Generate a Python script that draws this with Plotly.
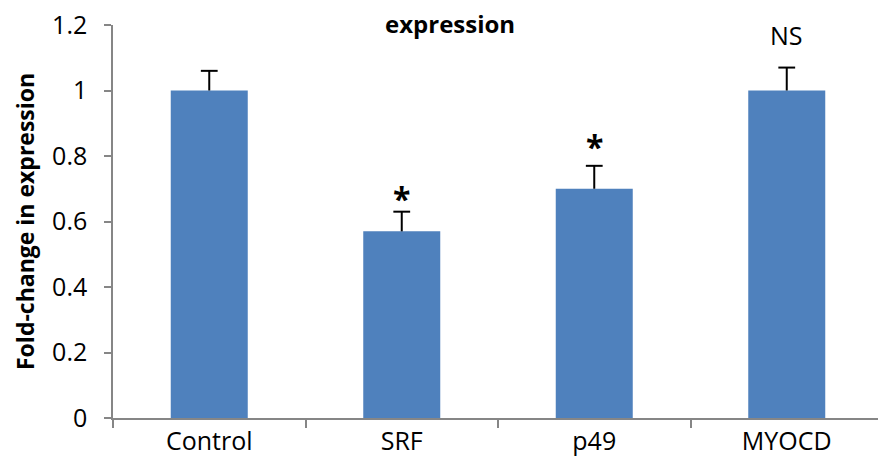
import plotly.graph_objects as go

categories = ["Control", "SRF", "p49", "MYOCD"]
values = [1.0, 0.57, 0.70, 1.0]
errors = [0.06, 0.06, 0.07, 0.07]
sig_labels = ["", "*", "*", "NS"]
sig_y = [None, 0.67, 0.83, 1.17]
y_ticks = [0, 0.2, 0.4, 0.6, 0.8, 1.0, 1.2]
y_tick_text = ["0", "0.2", "0.4", "0.6", "0.8", "1", "1.2"]

FONT = "Open Sans"
OFF = 8  # page body margin
W, H = 886, 471
# desired plot area in page pixels: x 113..883, y 25..418
L, R = 113 - OFF, W + OFF - 883
T, B = 25 - OFF, H + OFF - 418
PW, PH = W - L - R, H - T - B


def px_x(xp):
    return (xp - OFF - L) / PW


def px_y(yp):
    return (H - B - (yp - OFF)) / PH


fig = go.Figure()
fig.add_trace(go.Bar(
    x=categories, y=values,
    marker=dict(color="#4F81BD", line=dict(width=0)),
    showlegend=False, hoverinfo="skip",
))

# plus-only error bars: stem + cap
stem_x, stem_y = [], []
for c, v, e in zip(categories, values, errors):
    stem_x += [c, c, None]
    stem_y += [v, v + e, None]
fig.add_trace(go.Scatter(
    x=stem_x, y=stem_y, mode="lines",
    line=dict(color="black", width=2), showlegend=False, hoverinfo="skip",
))
fig.add_trace(go.Scatter(
    x=categories, y=[v + e for v, e in zip(values, errors)], mode="markers",
    marker=dict(symbol="line-ew", size=12, line=dict(color="black", width=2)),
    showlegend=False, hoverinfo="skip",
))

for c, lab, yy in zip(categories, sig_labels, sig_y):
    if lab:
        is_star = lab == "*"
        fig.add_annotation(
            x=c, y=yy, text=("<b>*</b>" if is_star else lab), showarrow=False,
            font=dict(family=FONT, size=32 if is_star else 25, color="black"),
            xref="x", yref="y", yanchor="middle",
        )

# chart title (second line, at the very top)
fig.add_annotation(
    text="<b>expression</b>", xref="paper", yref="paper",
    x=px_x(450), y=px_y(OFF - 3), xanchor="center", yanchor="top",
    showarrow=False, font=dict(family=FONT, size=24, color="black"),
)
# y-axis title
fig.add_annotation(
    text="<b>Fold-change in expression</b>", xref="paper", yref="paper",
    x=px_x(25), y=px_y(222), xanchor="center", yanchor="middle",
    textangle=-90, showarrow=False,
    font=dict(family=FONT, size=23, color="black"),
)

fig.update_layout(
    width=W, height=H,
    margin=dict(l=L, r=R, t=T, b=B),
    paper_bgcolor="white", plot_bgcolor="white",
    bargap=0.6,
    font=dict(family=FONT, size=25, color="black"),
    xaxis=dict(
        showline=True, linecolor="#868686", linewidth=1.5,
        ticks="outside", tickson="boundaries", ticklen=8,
        tickcolor="#868686", tickwidth=1.5,
        tickfont=dict(family=FONT, size=25, color="black"),
        showgrid=False, zeroline=False, automargin=False,
    ),
    yaxis=dict(
        range=[0, 1.2], tickvals=y_ticks, ticktext=y_tick_text,
        showline=True, linecolor="#868686", linewidth=1.5,
        ticks="outside", ticklen=7, tickcolor="#868686", tickwidth=1.5,
        ticklabelstandoff=12, ticklabeloverflow="allow",
        tickfont=dict(family=FONT, size=25, color="black"),
        showgrid=False, zeroline=False, automargin=False,
    ),
)

fig.write_html("out.html")
